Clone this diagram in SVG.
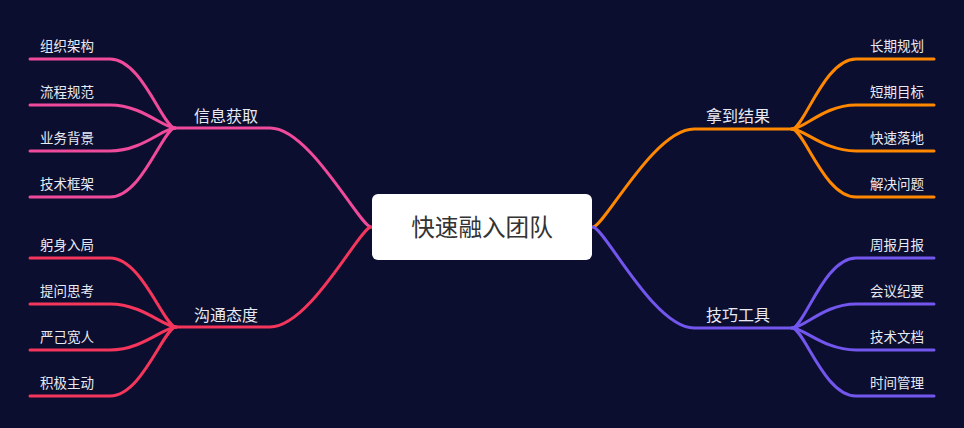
<svg xmlns="http://www.w3.org/2000/svg" width="964" height="428" viewBox="0 0 964 428">
<style>
.bg{fill:#0b0e2f}
.ln{fill:none;stroke-width:3;stroke-linecap:round}
.pk{stroke:#ef4a9b}
.rd{stroke:#f5365c}
.or{stroke:#ff8800}
.pu{stroke:#7356ee}
text{font-family:"Noto Sans CJK SC","Noto Sans",sans-serif;fill:#e9e9f2}
.leaf{font-size:13.5px}
.main{font-size:16px;text-anchor:middle}
.ctr{font-size:23.6px;text-anchor:middle;fill:#333333}
.r{text-anchor:end}
</style>
<rect class="bg" x="0" y="0" width="964" height="428"/>
<g id="connectors">
  <path class="ln pk" d="M371,227 C360,227 310,128 270,128 L175,128"/>
  <path class="ln rd" d="M371,227 C360,227 310,327 270,327 L176,327"/>
  <path class="ln or" d="M593,227 C604,227 654,129 694,129 L792,129"/>
  <path class="ln pu" d="M593,227 C604,227 654,328 694,328 L792,328"/>
  <path class="ln pk" d="M175,128 C163,128 142,59 110,59 L30,59"/>
  <path class="ln pk" d="M175,128 C163,128 142,105 110,105 L30,105"/>
  <path class="ln pk" d="M175,128 C163,128 142,151 110,151 L30,151"/>
  <path class="ln pk" d="M175,128 C163,128 142,197 110,197 L30,197"/>
  <path class="ln rd" d="M176,327 C164,327 142,258 110,258 L30,258"/>
  <path class="ln rd" d="M176,327 C164,327 142,304 110,304 L30,304"/>
  <path class="ln rd" d="M176,327 C164,327 142,350 110,350 L30,350"/>
  <path class="ln rd" d="M176,327 C164,327 142,396 110,396 L30,396"/>
  <path class="ln or" d="M792,129 C804,129 824,59 856,59 L934,59"/>
  <path class="ln or" d="M792,129 C804,129 824,105 856,105 L934,105"/>
  <path class="ln or" d="M792,129 C804,129 824,151 856,151 L934,151"/>
  <path class="ln or" d="M792,129 C804,129 824,197 856,197 L934,197"/>
  <path class="ln pu" d="M792,328 C804,328 824,258 856,258 L934,258"/>
  <path class="ln pu" d="M792,328 C804,328 824,304 856,304 L934,304"/>
  <path class="ln pu" d="M792,328 C804,328 824,350 856,350 L934,350"/>
  <path class="ln pu" d="M792,328 C804,328 824,396 856,396 L934,396"/>
</g>
<g id="center">
  <rect x="372" y="194" width="220" height="66" rx="6" fill="#ffffff"/>
  <text class="ctr" x="482" y="236">快速融入团队</text>
</g>
<g id="n-info"><text class="main" x="226" y="122">信息获取</text></g>
<g id="n-comm"><text class="main" x="226" y="321">沟通态度</text></g>
<g id="n-result"><text class="main" x="738" y="122">拿到结果</text></g>
<g id="n-tools"><text class="main" x="738" y="321">技巧工具</text></g>
<g id="l1"><text class="leaf" x="40" y="51">组织架构</text></g>
<g id="l2"><text class="leaf" x="40" y="97">流程规范</text></g>
<g id="l3"><text class="leaf" x="40" y="143">业务背景</text></g>
<g id="l4"><text class="leaf" x="40" y="189">技术框架</text></g>
<g id="l5"><text class="leaf" x="40" y="250">躬身入局</text></g>
<g id="l6"><text class="leaf" x="40" y="296">提问思考</text></g>
<g id="l7"><text class="leaf" x="40" y="342">严己宽人</text></g>
<g id="l8"><text class="leaf" x="40" y="388">积极主动</text></g>
<g id="r1"><text class="leaf r" x="924" y="51">长期规划</text></g>
<g id="r2"><text class="leaf r" x="924" y="97">短期目标</text></g>
<g id="r3"><text class="leaf r" x="924" y="143">快速落地</text></g>
<g id="r4"><text class="leaf r" x="924" y="189">解决问题</text></g>
<g id="r5"><text class="leaf r" x="924" y="250">周报月报</text></g>
<g id="r6"><text class="leaf r" x="924" y="296">会议纪要</text></g>
<g id="r7"><text class="leaf r" x="924" y="342">技术文档</text></g>
<g id="r8"><text class="leaf r" x="924" y="388">时间管理</text></g>
</svg>
